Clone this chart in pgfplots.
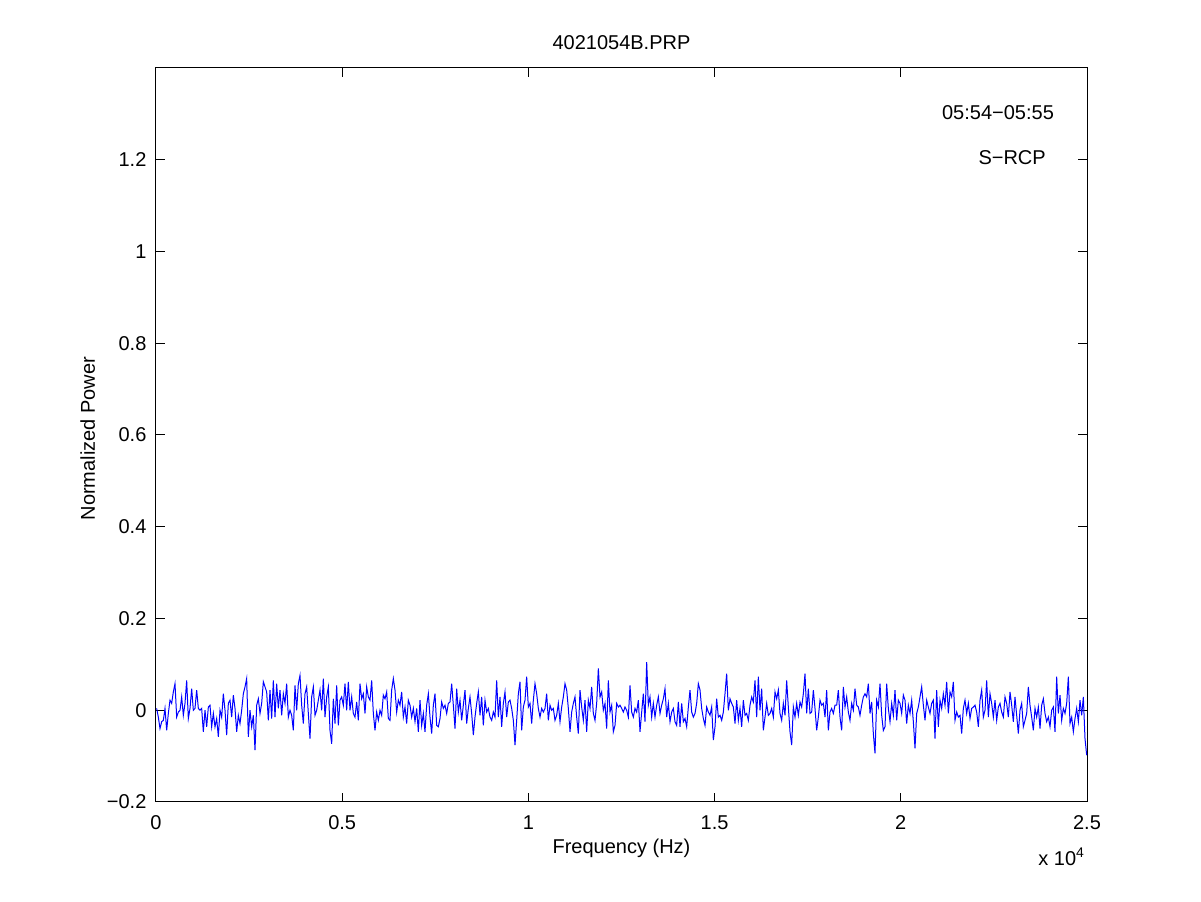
\documentclass[border=0pt]{standalone}
\usepackage{fontspec}
\setmainfont{Liberation Sans}
\usepackage{pgfplots}
\pgfplotsset{compat=1.18}
\begin{document}
\fontsize{10}{12}\selectfont
\begin{tikzpicture}[x=0.5pt,y=0.5pt]
\path (0,0) rectangle (1201,901);
\begin{axis}[
  at={(78pt,49.5pt)}, anchor=south west,
  width=465.5pt, height=367pt, scale only axis,
  xmin=0, xmax=25000, ymin=-0.2, ymax=1.4,
  scaled x ticks=false, scaled y ticks=false,
  xtick={0,5000,10000,15000,20000,25000},
  xticklabels={0,0.5,1,1.5,2,2.5},
  ytick={-0.2,0,0.2,0.4,0.6,0.8,1,1.2},
  yticklabels={−0.2,0,0.2,0.4,0.6,0.8,1,1.2},
  tick align=inside,
  major tick length=4.5pt,
  tick style={black, line width=0.5pt},
  axis line style={black, line width=0.5pt},
  xticklabel style={inner sep=0pt, anchor=north, yshift=-6.5pt},
  yticklabel style={inner sep=0pt, anchor=east, xshift=-4.6pt},
  clip=false,
]
\addplot[blue, line width=0.5pt] table[row sep=\\, header=false, y index=0, x expr=\coordindex*44.755+18] {
0.004\\-0.015\\-0.040\\-0.025\\-0.022\\0.004\\-0.044\\-0.007\\0.022\\0.015\\
0.040\\0.058\\-0.015\\-0.004\\0\\0.029\\-0.011\\0.015\\0.065\\-0.018\\
0.004\\0.047\\0\\0.004\\0.044\\0.004\\0\\0.004\\-0.047\\0\\
-0.036\\0.007\\0.011\\-0.036\\-0.007\\-0.036\\-0.018\\-0.058\\0\\-0.015\\
0.036\\0\\-0.054\\0.015\\0.022\\-0.015\\0.033\\0.004\\-0.047\\-0.011\\
-0.029\\0\\0.036\\0.051\\0.069\\-0.058\\0\\-0.036\\-0.011\\-0.087\\
0.011\\0.025\\-0.007\\0.015\\0.062\\0.051\\0.040\\-0.022\\0.044\\-0.018\\
0.065\\-0.015\\0.058\\0.004\\0.044\\-0.011\\0.036\\0.015\\0.058\\-0.015\\
0\\-0.011\\-0.044\\0.054\\0\\0.058\\0.076\\0.011\\-0.029\\0.036\\
0.051\\-0.007\\-0.062\\0.029\\0.051\\-0.011\\0\\0.022\\0.044\\0\\
0.069\\-0.015\\0.029\\0.051\\-0.044\\-0.073\\0.025\\-0.029\\0.054\\-0.033\\
0.022\\0.029\\0.011\\0.058\\0\\0.062\\0\\0.029\\-0.007\\-0.015\\
0.018\\-0.022\\0.058\\0.025\\0.036\\-0.007\\0.051\\0.029\\0.022\\0.065\\
-0.007\\-0.044\\-0.004\\-0.022\\0\\-0.011\\0.033\\0.025\\0.040\\-0.018\\
-0.022\\0.044\\0.069\\0.044\\-0.004\\0.022\\0.011\\0.040\\-0.015\\0.007\\
-0.029\\0.022\\0.011\\-0.015\\0.004\\-0.025\\0.004\\-0.047\\0.022\\-0.033\\
-0.007\\-0.047\\0.011\\0.036\\-0.015\\-0.051\\0.011\\0.036\\-0.033\\-0.036\\
-0.018\\0.018\\0.004\\0.011\\-0.007\\0.015\\0.018\\0.058\\0.011\\-0.040\\
0.047\\-0.004\\0.022\\-0.022\\0.011\\0.044\\-0.029\\0.004\\0.029\\-0.007\\
-0.054\\-0.015\\0.015\\0.040\\-0.011\\0.029\\-0.033\\0.022\\-0.004\\0.004\\
-0.015\\-0.022\\-0.004\\-0.015\\0.065\\-0.015\\0.029\\-0.036\\0.015\\0.040\\
-0.015\\0.018\\0.022\\0.004\\-0.022\\-0.076\\-0.022\\0.036\\0.062\\-0.044\\
0.007\\0.022\\0.073\\0.007\\0.015\\-0.029\\0.022\\0.058\\0.036\\0.004\\
-0.015\\0.004\\-0.004\\0.004\\0.036\\-0.022\\0.011\\0\\0.004\\-0.022\\
-0.011\\0.015\\-0.025\\0.007\\0.029\\0.058\\0.044\\0.004\\-0.047\\-0.004\\
0.015\\0.029\\-0.015\\-0.051\\0.044\\0.007\\-0.022\\0.022\\-0.047\\0.022\\
0.004\\0.051\\-0.007\\-0.022\\0.015\\0.091\\0.029\\0.040\\0\\0.015\\
-0.040\\0.065\\-0.004\\0.011\\-0.047\\-0.033\\0.015\\0.007\\0.011\\
0.004\\-0.004\\0.007\\0\\-0.015\\0.054\\-0.004\\-0.015\\0.004\\-0.004\\
0.022\\-0.047\\-0.004\\0.036\\-0.025\\0.105\\0.011\\0.029\\-0.015\\0.015\\
-0.015\\0.011\\0.029\\-0.007\\0.011\\0.025\\0.047\\-0.015\\0.015\\-0.025\\
-0.004\\0.004\\-0.025\\-0.033\\0.018\\-0.036\\0.015\\-0.025\\-0.018\\-0.036\\
0.007\\0.044\\-0.004\\-0.015\\-0.007\\0.015\\0.058\\0.044\\0.004\\-0.018\\
-0.033\\0.007\\-0.004\\-0.011\\0.007\\-0.065\\-0.036\\0.025\\-0.015\\-0.011\\
-0.022\\-0.004\\0.036\\0.080\\0\\0.025\\0.015\\0.007\\-0.029\\0.022\\
-0.022\\0.004\\-0.036\\0.022\\-0.011\\-0.007\\-0.022\\0.011\\0.029\\0.018\\
0.065\\-0.015\\0.073\\0\\0.047\\-0.044\\-0.015\\0.015\\-0.011\\-0.007\\
0.004\\-0.015\\0.040\\0.025\\0.044\\-0.007\\-0.022\\0.015\\-0.011\\0.065\\
0.007\\-0.047\\-0.076\\0.007\\-0.015\\0.015\\-0.011\\0.018\\0.007\\0.036\\
0.080\\-0.007\\0.047\\-0.007\\-0.004\\0.044\\0.004\\-0.044\\-0.015\\0.022\\
0.011\\0.015\\-0.015\\0.044\\-0.044\\-0.004\\0.004\\-0.007\\0.011\\0.011\\
0.044\\-0.015\\-0.044\\0.051\\0.007\\0.029\\-0.004\\-0.022\\
0.015\\0\\0.047\\0.011\\0.007\\-0.011\\0.011\\0.029\\0.036\\0.029\\
0.058\\-0.007\\0.018\\-0.051\\-0.094\\0.022\\0.007\\0.058\\-0.011\\-0.044\\
-0.036\\0.058\\0.004\\-0.025\\0.015\\-0.011\\0.044\\-0.022\\0.022\\0.015\\
-0.007\\0.033\\0.022\\-0.029\\0.011\\-0.007\\0.022\\-0.025\\-0.083\\-0.007\\
0.007\\0.029\\0.051\\0.011\\-0.022\\0.022\\0.007\\-0.007\\0.015\\0.022\\
-0.062\\0.044\\-0.036\\0.022\\0.004\\0.036\\0.011\\0.062\\-0.007\\0.040\\
0.029\\0.062\\-0.022\\-0.004\\-0.015\\-0.011\\-0.051\\0.004\\0.022\\-0.007\\
0.015\\-0.018\\0.004\\0.007\\0.011\\-0.004\\-0.036\\0.022\\0.044\\-0.015\\
0\\0.065\\-0.015\\0.036\\0.015\\-0.015\\0.022\\-0.022\\0.007\\0.015\\
-0.004\\-0.015\\0.029\\0.015\\-0.015\\0.040\\0.011\\-0.025\\0.029\\-0.011\\
-0.051\\0\\0.015\\-0.036\\-0.022\\-0.007\\0.051\\0.011\\-0.015\\-0.044\\
0.004\\-0.015\\0.007\\-0.040\\0.011\\0.025\\-0.007\\-0.025\\-0.015\\-0.036\\
0\\0.007\\-0.047\\0.073\\-0.007\\0.033\\-0.022\\0.004\\-0.007\\0.015\\
0.073\\-0.029\\-0.015\\-0.047\\-0.018\\0.004\\-0.025\\0.022\\-0.011\\0.029\\
-0.062\\-0.098\\
};
\node[anchor=base, yshift=9pt] at (rel axis cs:0.5,1) {4021054B.PRP};
\node[anchor=base, yshift=-26pt] at (rel axis cs:0.5,0) {Frequency (Hz)};
\node[anchor=base, rotate=90, yshift=30.5pt] at (rel axis cs:0,0.495) {Normalized Power};
\node[anchor=base west, yshift=-31.5pt, inner sep=0pt] at (rel axis cs:0.9474,0) {x 10\textsuperscript{4}};
\node[anchor=base] at (axis cs:22610,1.288) {05:54−05:55};
\node[anchor=base] at (axis cs:22990,1.190) {S−RCP};
\end{axis}
\end{tikzpicture}
\end{document}
